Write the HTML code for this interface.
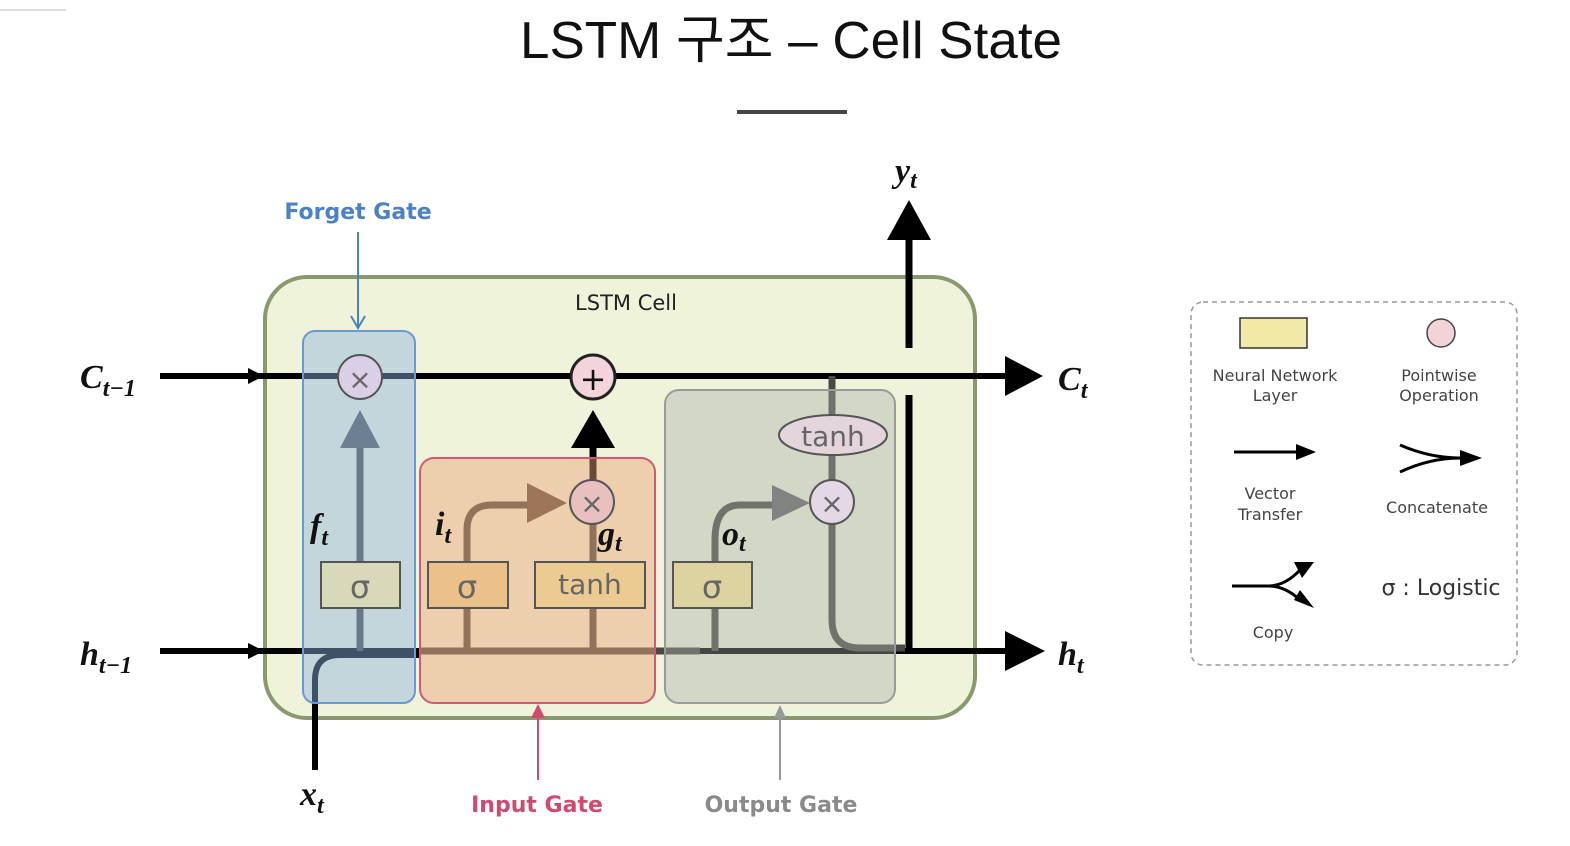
<!DOCTYPE html>
<html><head><meta charset="utf-8"><style>
body{margin:0;background:#fff;}
svg{display:block}
text{font-family:"DejaVu Sans","Liberation Sans",sans-serif}
text.m, .m tspan{font-family:"Liberation Serif",serif;font-style:italic;font-weight:bold}
</style></head><body>
<svg width="1570" height="846" viewBox="0 0 1570 846" xmlns="http://www.w3.org/2000/svg">
<line x1="0" y1="10" x2="66" y2="10" stroke="#ddd" stroke-width="2"/>
<text x="791" y="58" font-size="52" text-anchor="middle" fill="#111" style="font-family:'Liberation Sans','Noto Sans CJK KR',sans-serif" textLength="542" lengthAdjust="spacingAndGlyphs">LSTM 구조 – Cell State</text>
<line x1="737" y1="112" x2="847" y2="112" stroke="#444" stroke-width="4"/>

<rect x="265" y="277" width="710" height="441" rx="42" fill="#eef3d9" stroke="#8a9870" stroke-width="4"/>
<text x="626" y="310" font-size="21" text-anchor="middle" fill="#222">LSTM Cell</text>

<line x1="160" y1="376" x2="1010" y2="376" stroke="#000" stroke-width="6"/>
<polygon points="1005,356 1043,376 1005,396" fill="#000"/>
<polygon points="248,368 264,376 248,384" fill="#000"/>
<line x1="160" y1="651" x2="1010" y2="651" stroke="#000" stroke-width="6"/>
<polygon points="1005,631 1045,651 1005,671" fill="#000"/>
<polygon points="248,643 264,651 248,659" fill="#000"/>
<line x1="909" y1="395" x2="909" y2="651" stroke="#000" stroke-width="7"/>
<line x1="909" y1="348" x2="909" y2="235" stroke="#000" stroke-width="7"/>
<polygon points="887,240 909,200 931,240" fill="#000"/>
<path d="M315,770 V680 Q315,655 340,655 H420" fill="none" stroke="#000" stroke-width="6"/>

<g stroke="#4a4a44" stroke-width="7" fill="none">
<line x1="360" y1="651" x2="360" y2="445"/>
<path d="M467,651 V530 Q467,505 492,505 H530"/>
<line x1="593" y1="651" x2="593" y2="524"/>
<path d="M715,651 V540 Q715,505 740,505 H775"/>
<path d="M832,376 V620 Q832,648 860,648 H905"/>
<path d="M420,651 H700"/>
</g>
<line x1="593" y1="480" x2="593" y2="440" stroke="#000" stroke-width="7"/>
<polygon points="340,448 360,410 380,448" fill="#555"/>
<polygon points="571,448 593,410 615,448" fill="#000"/>
<polygon points="527,483 567,503 527,523" fill="#5e5040"/>
<polygon points="772,485 810,503 772,521" fill="#666"/>

<rect x="303" y="331" width="112" height="372" rx="12" fill="rgba(140,180,225,0.45)" stroke="#6a9ad0" stroke-width="2"/>
<rect x="420" y="458" width="235" height="245" rx="14" fill="rgba(235,165,120,0.45)" stroke="#d05a75" stroke-width="2"/>
<rect x="665" y="390" width="230" height="313" rx="14" fill="rgba(170,175,170,0.4)" stroke="#9a9a9a" stroke-width="2"/>

<g stroke="#555" stroke-width="2">
<circle cx="360" cy="377" r="22" fill="#d9cfe6"/>
<circle cx="593" cy="377" r="22" fill="#f4d4dc" stroke="#222" stroke-width="3"/>
<circle cx="592" cy="502" r="22" fill="#e8c0c0"/>
<circle cx="832" cy="502" r="22" fill="#e4d8e4"/>
<ellipse cx="833" cy="435" rx="54" ry="20" fill="#e4d4dc"/>
<rect x="321" y="562" width="79" height="46" fill="#d8d9b8"/>
<rect x="428" y="562" width="80" height="46" fill="#ecc08a"/>
<rect x="535" y="562" width="110" height="46" fill="#eccb92"/>
<rect x="673" y="562" width="79" height="46" fill="#ddd3a0"/>
</g>
<g fill="#666" font-size="32" text-anchor="middle">
<text x="360" y="389" font-size="28">×</text>
<text x="593" y="390" fill="#111">+</text>
<text x="592" y="513" font-size="28">×</text>
<text x="832" y="513" font-size="28">×</text>
<text x="833" y="446" font-size="28">tanh</text>
<text x="360" y="598">σ</text>
<text x="467" y="598">σ</text>
<text x="590" y="594" font-size="28">tanh</text>
<text x="712" y="598">σ</text>
</g>

<g class="m" font-size="34" fill="#111">
<text class="m" x="80" y="388">C<tspan font-size="24" dy="8">t−1</tspan></text>
<text class="m" x="80" y="665">h<tspan font-size="24" dy="8">t−1</tspan></text>
<text class="m" x="1058" y="390">C<tspan font-size="24" dy="8">t</tspan></text>
<text class="m" x="1058" y="665">h<tspan font-size="24" dy="8">t</tspan></text>
<text class="m" x="895" y="182">y<tspan font-size="24" dy="6">t</tspan></text>
<text class="m" x="300" y="805">x<tspan font-size="24" dy="8">t</tspan></text>
<text class="m" x="310" y="537">f<tspan font-size="24" dy="8">t</tspan></text>
<text class="m" x="435" y="535">i<tspan font-size="24" dy="8">t</tspan></text>
<text class="m" x="598" y="545">g<tspan font-size="24" dy="6">t</tspan></text>
<text class="m" x="722" y="545">o<tspan font-size="24" dy="6">t</tspan></text>
</g>

<text x="358" y="219" font-size="22" fill="#4a82c8" text-anchor="middle" font-weight="bold">Forget Gate</text>
<line x1="358" y1="232" x2="358" y2="326" stroke="#4a82c8" stroke-width="2"/>
<polyline points="351,316 358,328 365,316" fill="none" stroke="#4a82c8" stroke-width="2"/>
<text x="537" y="812" font-size="22" fill="#d04a6e" text-anchor="middle" font-weight="bold">Input Gate</text>
<line x1="538" y1="780" x2="538" y2="708" stroke="#d04a6e" stroke-width="2"/>
<polygon points="531,718 538,704 545,718" fill="#d04a6e"/>
<text x="781" y="812" font-size="22" fill="#8a8a8a" text-anchor="middle" font-weight="bold">Output Gate</text>
<line x1="780" y1="780" x2="780" y2="708" stroke="#999" stroke-width="2"/>
<polygon points="774,718 780,705 786,718" fill="#999"/>

<rect x="1191" y="302" width="326" height="363" rx="12" fill="none" stroke="#999" stroke-width="1.5" stroke-dasharray="5,4"/>
<rect x="1240" y="318" width="67" height="30" fill="#f3e9a6" stroke="#333" stroke-width="1.5"/>
<circle cx="1441" cy="333" r="14" fill="#f2d4d8" stroke="#444" stroke-width="1.5"/>
<g font-size="16" fill="#444" text-anchor="middle">
<text x="1275" y="381">Neural Network</text><text x="1275" y="401">Layer</text>
<text x="1439" y="381">Pointwise</text><text x="1439" y="401">Operation</text>
<text x="1270" y="499">Vector</text><text x="1270" y="520">Transfer</text>
<text x="1437" y="513">Concatenate</text>
<text x="1273" y="638">Copy</text>
</g>
<text x="1441" y="595" font-size="22" fill="#333" text-anchor="middle"><tspan class="m" font-size="22">σ</tspan> : Logistic</text>
<line x1="1234" y1="452" x2="1300" y2="452" stroke="#000" stroke-width="3"/>
<polygon points="1296,444 1316,452 1296,460" fill="#000"/>
<path d="M1400,445 Q1430,458 1460,458 M1400,472 Q1430,458 1460,458" fill="none" stroke="#000" stroke-width="3"/>
<polygon points="1460,450 1482,458 1460,466" fill="#000"/>
<path d="M1232,586 H1268 Q1285,586 1300,570 M1268,586 Q1285,586 1300,600" fill="none" stroke="#000" stroke-width="3"/>
<polygon points="1294,562 1314,562 1302,578" fill="#000"/>
<polygon points="1294,600 1314,608 1300,590" fill="#000"/>
</svg>
</body></html>
